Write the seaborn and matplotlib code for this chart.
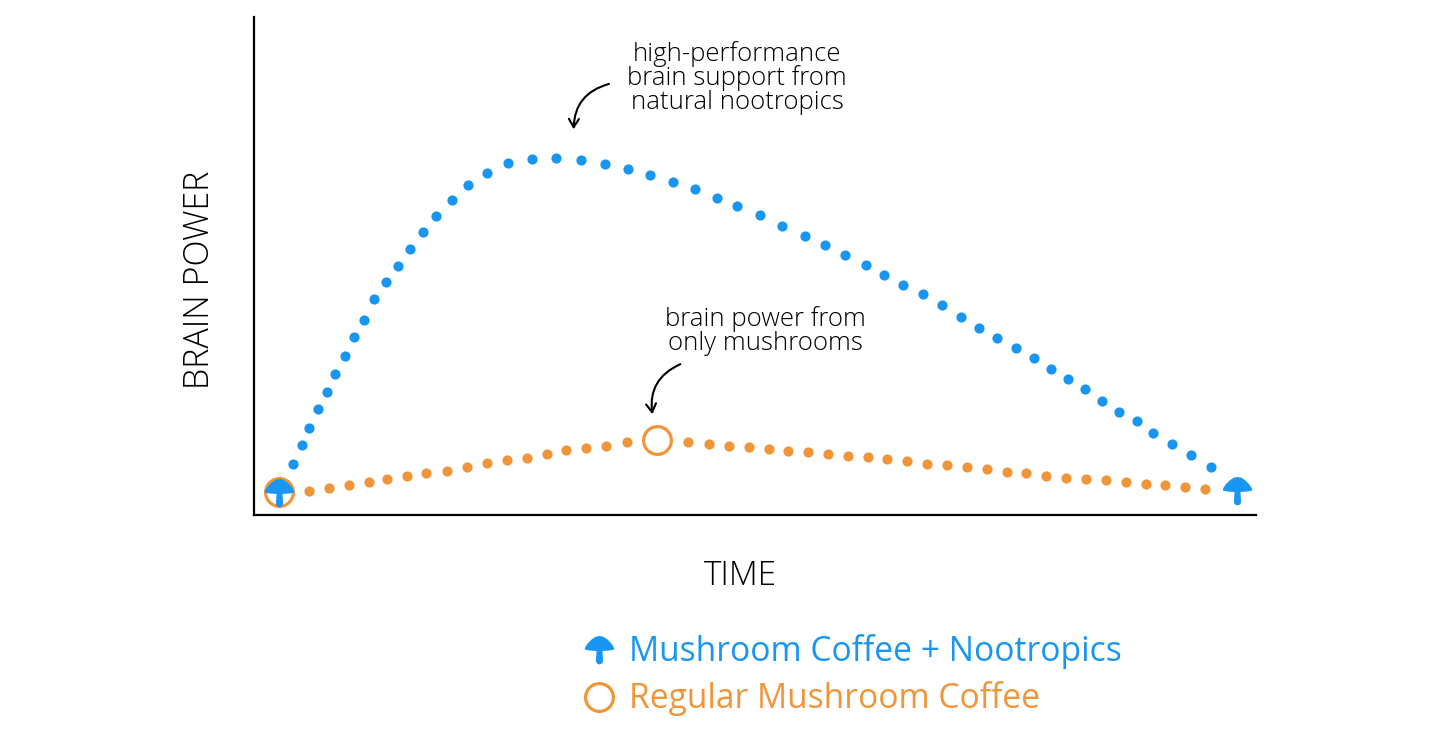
import numpy as np
import pandas as pd
import seaborn as sns
import matplotlib.pyplot as plt
from matplotlib.path import Path
from matplotlib.lines import Line2D

# values (time 0-100, brain power 0-100)
blue_t = [2.5, 3.9, 4.8, 5.5, 6.4, 7.3, 8.1, 9.1, 10.0, 11.0, 12.0, 13.2, 14.4, 15.6, 16.9, 18.2,
          19.8, 21.4, 23.3, 25.3, 27.7, 30.1, 32.6, 35.0, 37.3, 39.5, 41.8, 44.0, 46.2, 48.2, 50.5,
          52.7, 55.0, 57.0, 59.0, 61.1, 62.9, 64.8, 66.8, 68.7, 70.6, 72.4, 74.2, 76.0, 77.8, 79.5,
          81.2, 82.9, 84.6, 86.3, 88.1, 89.7, 91.6, 93.5, 95.5, 98.1]
blue_p = [4.6, 10.3, 14.1, 17.5, 21.3, 24.7, 28.4, 32.0, 35.8, 39.2, 43.3, 46.7, 49.9, 53.5, 56.9, 60.0,
          63.2, 66.2, 68.6, 70.6, 71.4, 71.6, 71.2, 70.4, 69.4, 68.2, 66.8, 65.4, 63.6, 62.0, 60.2,
          58.1, 56.1, 54.3, 52.3, 50.3, 48.1, 46.1, 44.3, 42.1, 39.8, 37.6, 35.6, 33.6, 31.6, 29.4,
          27.4, 25.4, 22.9, 20.7, 18.9, 16.5, 14.3, 12.1, 9.7, 5.0]

orange_t = [2.5, 5.5, 7.5, 9.5, 11.5, 13.3, 15.3, 17.2, 19.3, 21.3, 23.3, 25.2, 27.2, 29.2, 31.1, 33.1,
            35.1, 37.2, 40.2, 43.3, 45.4, 47.4, 49.4, 51.4, 53.3, 55.3, 57.3, 59.3, 61.3, 63.2, 65.2,
            67.2, 69.2, 71.2, 73.2, 75.1, 77.0, 79.0, 81.0, 83.0, 85.0, 87.0, 89.0, 90.9, 92.9, 94.9]
orange_p = [4.6, 4.8, 5.4, 6.0, 6.6, 7.2, 7.8, 8.5, 8.9, 9.7, 10.5, 11.1, 11.5, 12.3, 13.1, 13.5,
            13.9, 14.7, 15.1, 14.7, 14.3, 13.9, 13.7, 13.3, 12.9, 12.7, 12.3, 11.9, 11.7, 11.3, 10.9,
            10.3, 10.1, 9.7, 9.3, 8.7, 8.5, 7.8, 7.4, 7.2, 7.0, 6.6, 6.2, 6.0, 5.6, 5.2]

labels = ['Mushroom Coffee + Nootropics', 'Regular Mushroom Coffee']
note_top = 'high-performance\nbrain support from\nnatural nootropics'
note_low = 'brain power from\nonly mushrooms'

BLUE = '#1896f2'
ORANGE = '#f0953a'

sns.set_theme(style='white')
plt.rcParams['font.family'] = ['Open Sans', 'DejaVu Sans']

# mushroom marker
mush = [(-15, 0), (-14, 3), (-11.5, 6.5), (-8, 10), (-4, 12.8), (0, 13.6), (4, 12.8), (8, 10),
        (11.5, 6.5), (14, 3), (15, 0), (10, -1), (3, -1.5), (3.6, -11), (3, -13.5), (1.5, -14.6),
        (0, -15), (-1.5, -14.6), (-3, -13.5), (-3.6, -11), (-3, -1.5), (-10, -1), (-15, 0)]
codes = [Path.MOVETO] + [Path.LINETO] * (len(mush) - 2) + [Path.CLOSEPOLY]
mushroom = Path(mush, codes)

blue = pd.DataFrame({'t': blue_t, 'p': blue_p})
orange = pd.DataFrame({'t': orange_t, 'p': orange_p})
peak = int(np.argmax(orange_p))
orange_dots = orange.drop(index=[0, peak])

fig = plt.figure(figsize=(14.4, 7.33), dpi=100)
ax = fig.add_axes([254 / 1440, 1 - 515 / 733, 1002 / 1440, 498 / 733])

sns.scatterplot(data=orange_dots, x='t', y='p', color=ORANGE, s=54, linewidth=0, ax=ax, zorder=3)
sns.scatterplot(data=blue.iloc[1:-1], x='t', y='p', color=BLUE, s=54, linewidth=0, ax=ax, zorder=3)

# open circles on the regular coffee curve
ax.plot(orange['t'].iloc[[peak]], orange['p'].iloc[[peak]], ls='none', marker='o',
        ms=20, mfc='white', mec=ORANGE, mew=2.3, zorder=4)
ax.plot(orange['t'].iloc[[0]], orange['p'].iloc[[0]], ls='none', marker='o',
        ms=20, mfc='none', mec=ORANGE, mew=2.3, zorder=4)
# mushrooms at both ends of the nootropics curve
ax.plot(blue['t'].iloc[[0, -1]], blue['p'].iloc[[0, -1]], ls='none', marker=mushroom,
        ms=21.5, mfc=BLUE, mec=BLUE, mew=0, zorder=5)

ax.set_xlim(0, 100)
ax.set_ylim(0, 100)
ax.set_xticks([])
ax.set_yticks([])
sns.despine(ax=ax)
for side in ['left', 'bottom']:
    ax.spines[side].set_color('black')
    ax.spines[side].set_linewidth(1.6)

ax.set_xlabel('TIME', fontsize=24, fontweight='light', color='black', va='center')
ax.set_ylabel('BRAIN POWER', fontsize=24.5, fontweight='light', color='black', va='center')
ax.xaxis.set_label_coords((740 - 254) / 1002, (515 - 576) / 498)
ax.yaxis.set_label_coords((200 - 254) / 1002, (515 - 280) / 498)

# annotations
ax.text(48.2, 87.8, note_top, ha='center', va='center', fontsize=18.5, fontweight='light',
        color='black', linespacing=0.93)
ax.annotate('', xy=(31.9, 76.9), xytext=(35.7, 86.7),
            arrowprops=dict(arrowstyle='->,head_length=0.5,head_width=0.3', lw=1.5,
                            color='black', connectionstyle='arc3,rad=0.4'))
ax.text(51.0, 36.9, note_low, ha='center', va='center', fontsize=18.5, fontweight='light',
        color='black', linespacing=0.93)
ax.annotate('', xy=(39.8, 19.7), xytext=(42.8, 30.5),
            arrowprops=dict(arrowstyle='->,head_length=0.5,head_width=0.3', lw=1.5,
                            color='black', connectionstyle='arc3,rad=0.4'))

handles = [
    Line2D([], [], ls='none', marker=mushroom, ms=21.5, mfc=BLUE, mec=BLUE, mew=0),
    Line2D([], [], ls='none', marker='o', ms=20, mfc='none', mec=ORANGE, mew=2.3),
]
fig.legend(handles, labels, loc='center left', bbox_to_anchor=(0.402, 1 - 675 / 733),
           frameon=False, labelcolor=[BLUE, ORANGE], handlelength=1.2,
           handletextpad=0.3, labelspacing=0.38, borderpad=0, borderaxespad=0,
           prop={'weight': 'medium', 'size': 24.2})

fig.savefig('out.png', dpi=100, facecolor='white')
